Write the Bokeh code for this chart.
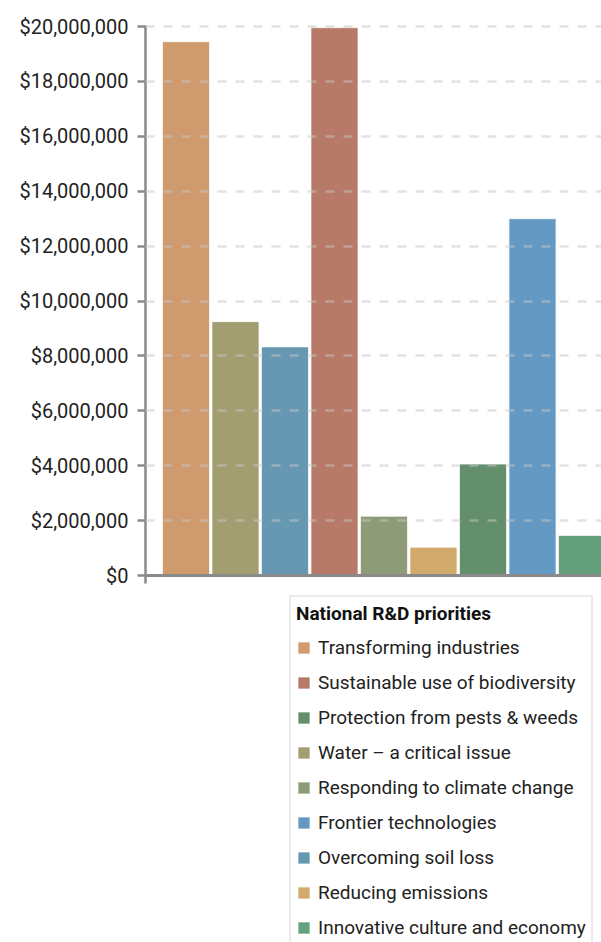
from bokeh.plotting import figure
from bokeh.layouts import column
from bokeh.models import (Range1d, FixedTicker, NumeralTickFormatter, Legend, LegendItem,
                          ColumnDataSource)
from bokeh.embed import file_html
from bokeh.resources import INLINE

# ---- data (bar order) ----
categories = ["Transforming industries", "Water \u2013 a critical issue", "Overcoming soil loss",
              "Sustainable use of biodiversity", "Responding to climate change", "Reducing emissions",
              "Protection from pests & weeds", "Frontier technologies", "Innovative culture and economy"]
values = [19450000, 9250000, 8330000, 19960000, 2160000, 1030000, 4060000, 13000000, 1460000]
colors = ["#CF9B6E", "#A29E72", "#6698B1", "#B77A68", "#8E9B77", "#D2AB6C", "#648F6C", "#6399C2", "#65A07C"]

legend_order = ["Transforming industries", "Sustainable use of biodiversity", "Protection from pests & weeds",
                "Water \u2013 a critical issue", "Responding to climate change", "Frontier technologies",
                "Overcoming soil loss", "Reducing emissions", "Innovative culture and economy"]
legend_title = "National R&D priorities"
y_ticks = [0, 2000000, 4000000, 6000000, 8000000, 10000000, 12000000, 14000000, 16000000, 18000000, 20000000]

FONT = "Roboto"

src = ColumnDataSource(dict(x=list(range(len(categories))), top=values, color=colors, name=categories))

# ---------------- chart ----------------
p = figure(width=601, height=590, output_backend="svg", toolbar_location=None,
           x_range=Range1d(-0.818, 8.394), y_range=Range1d(0, 20040000),
           min_border_left=145, min_border_right=0, min_border_top=25, min_border_bottom=15)
p.outline_line_color = None
p.background_fill_color = "white"

r = p.vbar(x="x", top="top", width=0.95, fill_color="color", line_color="white",
           line_width=1, line_alpha=0.7, source=src)

ya = p.yaxis[0]
ya.ticker = FixedTicker(ticks=y_ticks)
ya.formatter = NumeralTickFormatter(format="$0,0")
ya.axis_line_color = "#8a8a8a"
ya.axis_line_width = 2.5
ya.major_tick_line_color = "#8a8a8a"
ya.major_tick_line_width = 2.5
ya.major_tick_out = 8
ya.major_tick_in = 0
ya.minor_tick_line_color = None
ya.major_label_text_font = FONT
ya.major_label_text_font_size = "20px"
ya.major_label_text_color = "#222222"
ya.major_label_standoff = 9

xa = p.xaxis[0]
xa.ticker = FixedTicker(ticks=[-0.818])
xa.axis_line_color = "#8a8a8a"
xa.axis_line_width = 3
xa.major_tick_line_color = "#8a8a8a"
xa.major_tick_line_width = 2.5
xa.major_tick_out = 8
xa.major_tick_in = 0
xa.minor_tick_line_color = None
xa.major_label_text_color = None
xa.major_label_text_font_size = "1px"
xa.major_label_standoff = 2

p.xgrid.grid_line_color = None
p.ygrid.ticker = FixedTicker(ticks=y_ticks)
p.ygrid.grid_line_color = "#c8c8c8"
p.ygrid.grid_line_alpha = 0.5
p.ygrid.grid_line_width = 2.5
p.ygrid.grid_line_dash = "9 9"
p.ygrid.level = "annotation"

# ---------------- legend panel ----------------
p2 = figure(width=601, height=352, output_backend="svg", toolbar_location=None,
            x_range=Range1d(0, 456), y_range=Range1d(0, 352),
            x_axis_location=None, y_axis_location=None,
            min_border_left=0, min_border_right=0, min_border_top=0, min_border_bottom=0)
p2.grid.visible = False
p2.outline_line_color = None
r2 = p2.vbar(x="x", top="top", width=0.95, fill_color="color", line_color="white",
             line_width=1, line_alpha=0.7, source=src)
r2.visible = False

items = []
for name in legend_order:
    items.append(LegendItem(label=name, renderers=[r2], index=categories.index(name)))

legend = Legend(items=items, location=(144, -4), title=legend_title,
                title_text_font=FONT, title_text_font_size="19px", title_text_font_style="bold",
                title_text_color="#111111", title_standoff=11,
                label_text_font=FONT, label_text_font_size="19px", label_text_color="#222222",
                label_height=20, glyph_height=15, glyph_width=15, label_standoff=7,
                spacing=12, padding=5, margin=0,
                inactive_fill_alpha=0,
                border_line_color="#d8d8d8", border_line_width=2.5,
                background_fill_color="white", background_fill_alpha=1)
p2.add_layout(legend, "center")

open("out.html", "w").write(file_html(column(p, p2, spacing=0), INLINE))
